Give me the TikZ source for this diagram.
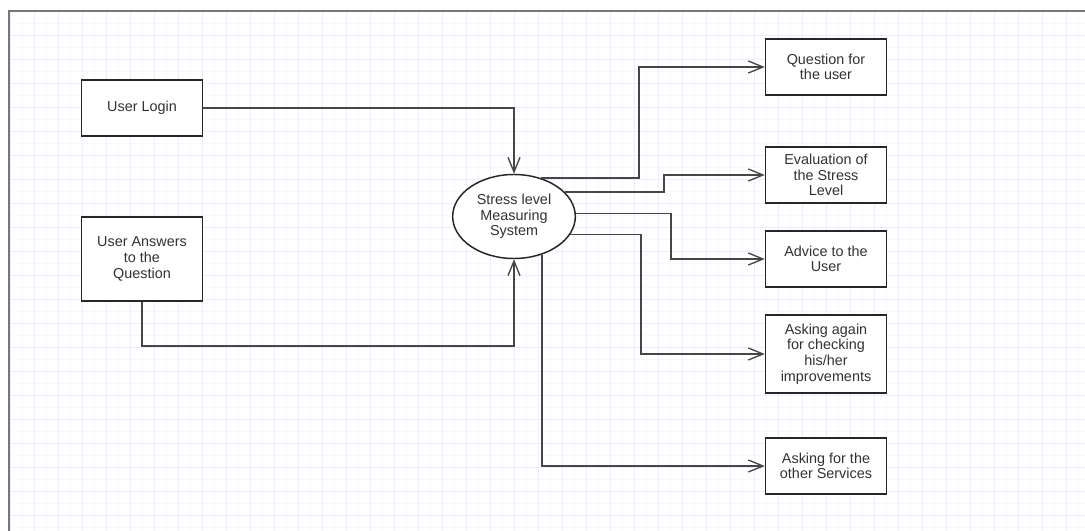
\documentclass[tikz,border=0pt]{standalone}
\usepackage{fontspec}
\setmainfont{Liberation Sans}
\usepackage{tikz}
\usetikzlibrary{arrows.meta,positioning,shapes.geometric}

\definecolor{gridminor}{RGB}{247,247,254}
\definecolor{gridmajor}{RGB}{237,237,252}
\definecolor{framegray}{RGB}{120,120,120}
\definecolor{linegray}{RGB}{70,70,70}
\definecolor{textgray}{RGB}{50,50,50}

\begin{document}
\begin{tikzpicture}[
        x=0.75pt, y=-0.75pt,
        every node/.style={draw=black!85, line width=1.1pt, align=center, fill=white,
            text=textgray, font=\fontsize{10.8pt}{11.7pt}\selectfont},
        box/.style={rectangle, minimum width=90.75pt, minimum height=42pt, inner sep=2pt},
        proc/.style={ellipse, minimum width=92pt, minimum height=63pt, inner sep=0pt},
        arrow/.style={-{Straight Barb[length=11pt,width=9pt,line width=1pt]}, line width=1.1pt, draw=linegray}
    ]

    % Canvas and grid
    \useasboundingbox (0,0) rectangle (1085,531);
    \fill[white] (0,0) rectangle (1085,531);
    \draw[gridminor, line width=0.5pt, step=9pt, shift={(10,11)}] (0,0) grid (1075,520);
    \draw[gridmajor, line width=0.6pt, step=18pt, shift={(10,11)}] (0,0) grid (1075,520);
    \draw[framegray, line width=1.6pt] (9,531) -- (9,11) -- (1085,11);

    % Inputs
    \node[box] (login) at (142,108) {User Login};
    \node[box, minimum height=63pt] (answers) at (142,259) {User Answers \\ to the \\ Question};

    % Central process
    \node[proc] (sys) at (514,216.5) {Stress level \\ Measuring \\ System};

    % Outputs
    \node[box] (question) at (826,67) {Question for \\ the user};
    \node[box] (eval) at (826,175) {Evaluation of \\ the Stress \\ Level};
    \node[box] (advice) at (826,259) {Advice to the \\ User};
    \node[box, minimum height=58.5pt] (again) at (826,354) {Asking again \\ for checking \\ his/her \\ improvements};
    \node[box] (other) at (826,466) {Asking for the \\ other Services};

    % Bend points
    \coordinate (low) at (0,346);
    \coordinate (bq) at (639,0);
    \coordinate (be) at (664,0);
    \coordinate (ba) at (671,0);
    \coordinate (bg) at (641,0);

    % Arrows into the system
    \draw[arrow] (login.east) -| (sys.north);
    \draw[arrow] (answers.south) -- (answers.south |- low) -| (sys.south);

    % Arrows out of the system
    \draw[arrow] (sys.55) -- (sys.55 -| bq) |- (question.west);
    \draw[arrow] (sys.26) -- (sys.26 -| be) |- (eval.west);
    \draw[arrow] (sys.3) -- (sys.3 -| ba) |- (advice.west);
    \draw[arrow] (sys.342) -- (sys.342 -| bg) |- (again.west);
    \draw[arrow] (sys.306) |- (other.west);

\end{tikzpicture}
\end{document}
